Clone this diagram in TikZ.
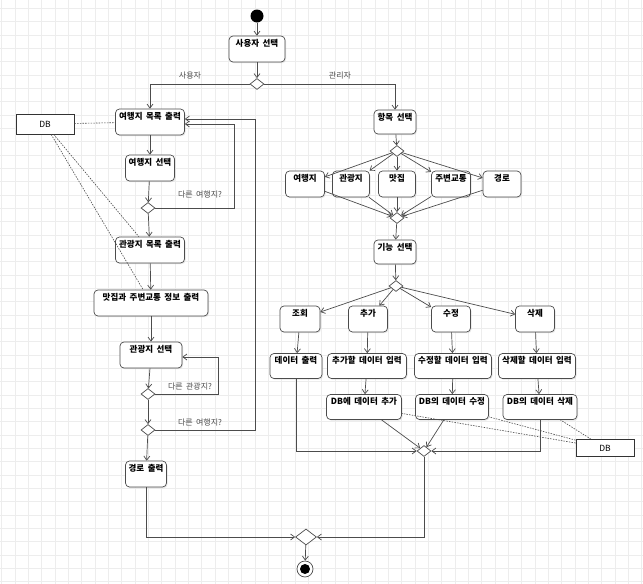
\documentclass[tikz,border=0pt]{standalone}
\usepackage{fontspec}
\setmainfont{Noto Sans CJK KR}[WordSpace=1.8]
\usepackage{tikz}
\usetikzlibrary{shapes.geometric,arrows.meta,shadows}

\begin{document}
\begin{tikzpicture}[x=1pt,y=-1pt,
    gridln/.style={draw=black!7, line width=0.5pt},
    act/.style={draw=black!70, line width=0.7pt, fill=white, rounded corners=4pt,
        font=\fontsize{8.5}{10}\selectfont\bfseries, inner xsep=2pt, inner ysep=3pt,
        text height=7pt, text depth=13pt, minimum width=40pt,
        drop shadow={shadow xshift=1pt, shadow yshift=-1.2pt, fill=black!20}},
    actsm/.style={act, text depth=11pt},
    store/.style={draw=black!80, line width=0.8pt, fill=white, minimum width=58pt,
        minimum height=20pt, inner sep=0pt, font=\fontsize{8.5}{10}\selectfont},
    dec/.style={diamond, draw=black!70, line width=0.7pt, fill=white,
        minimum width=14pt, minimum height=11pt, inner sep=0pt},
    flow/.style={draw=black!70, line width=0.7pt, -{Straight Barb[length=4pt,width=6pt]}},
    dep/.style={draw=black!70, line width=0.6pt, dash pattern=on 1.5pt off 1.2pt},
    guard/.style={font=\fontsize{8}{9}\selectfont, text=black!70}]

    \useasboundingbox[fill=white] (0,0) rectangle (643,584);
    % background grid
    \foreach \i in {0,...,48} \draw[gridln] ({1.7+13.33*\i},0) -- ++(0,584);
    \foreach \j in {0,...,43} \draw[gridln] (0,{8.4+13.33*\j}) -- ++(643,0);

    % start and user choice
    \node[circle, fill=black, minimum size=13pt, inner sep=0pt] (start) at (257,16) {};
    \node[act, minimum width=56pt] (usel) at (257,49) {사용자 선택};
    \node[dec] (d1) at (257,84) {};
    \node[guard] (gu) at (190,76) {사용자};
    \node[guard] (ga) at (340,76) {관리자};

    % user side
    \node[store] (dbl) at (45,124) {DB};
    \node[act, minimum width=69pt] (tlist) at (150,122) {여행지 목록 출력};
    \node[act, minimum width=49pt] (tsel) at (150,168) {여행지 선택};
    \node[dec] (d2) at (148,208) {};
    \node[guard] (gt1) at (200,195) {다른 여행지?};
    \node[act, minimum width=69pt] (alist) at (150,250) {관광지 목록 출력};
    \node[act, minimum width=114pt] (finfo) at (151,303) {맛집과 주변교통 정보 출력};
    \node[act, minimum width=62pt] (asel) at (151,355) {관광지 선택};
    \node[dec] (d3) at (148,394) {};
    \node[guard] (ga1) at (190,387) {다른 관광지?};
    \node[dec] (d4) at (148,430) {};
    \node[guard] (gt2) at (200,423) {다른 여행지?};
    \node[act, minimum width=41pt] (route) at (146,474) {경로 출력};

    % admin side
    \node[actsm, minimum width=42pt] (item) at (395,122) {항목 선택};
    \node[dec] (dA) at (397,151) {};
    \node[act, minimum width=39pt] (itrav) at (305,184) {여행지};
    \node[act, minimum width=37pt] (iattr) at (351,184) {관광지};
    \node[act, minimum width=37pt] (ifood) at (397,184) {맛집};
    \node[act, minimum width=39pt] (itran) at (451,184) {주변교통};
    \node[act, minimum width=38pt] (iroute) at (502,184) {경로};
    \node[dec] (dB) at (397,218) {};
    \node[actsm, minimum width=42pt] (func) at (395,252) {기능 선택};
    \node[dec] (dC) at (396,286) {};
    \node[act, minimum width=40pt] (look) at (300,319) {조회};
    \node[act, minimum width=39pt] (add) at (368,319) {추가};
    \node[act, minimum width=39pt] (edit) at (451,319) {수정};
    \node[act, minimum width=39pt] (del) at (535,319) {삭제};
    \node[act, minimum width=52pt, text depth=12pt] (lookout) at (296,366) {데이터 출력};
    \node[act, minimum width=79pt, text depth=12pt] (addin) at (367,366) {추가할 데이터 입력};
    \node[act, minimum width=77pt, text depth=12pt] (editin) at (453,366) {수정할 데이터 입력};
    \node[act, minimum width=77pt, text depth=12pt] (delin) at (537,366) {삭제할 데이터 입력};
    \node[act, minimum width=75pt, text depth=12pt] (adddb) at (364,407) {DB에 데이터 추가};
    \node[act, minimum width=73pt, text depth=12pt] (editdb) at (452,407) {DB의 데이터 수정};
    \node[act, minimum width=74pt, text depth=12pt] (deldb) at (540,407) {DB의 데이터 삭제};
    \node[dec] (dD) at (424,451) {};
    \node[store, minimum height=17pt] (dbr) at (605,448) {DB};

    % end
    \node[dec, minimum width=21pt, minimum height=16pt] (fin) at (306,537) {};
    \node[circle, draw=black!70, line width=0.7pt, fill=white, minimum size=16pt, inner sep=0pt,
        path picture={\fill[black] (path picture bounding box.center) circle (5pt);}] (stop) at (305,569) {};

    % flows
    \draw[flow] (start) -- (usel);
    \draw[flow] (usel) -- (d1);
    \draw[flow] (d1.west) -| (tlist.north);
    \draw[flow] (d1.east) -| (item.north);

    \draw[flow] (tlist) -- (tsel);
    \draw[flow] (tsel) -- (d2);
    \coordinate (lp1) at (234,124);
    \draw[flow] (d2.east) -| (lp1) -- (lp1 -| tlist.east);
    \draw[flow] (d2) -- (alist);
    \draw[flow] (alist) -- (finfo);
    \draw[flow] (finfo) -- (asel);
    \draw[flow] (asel) -- (d3);
    \coordinate (lp3) at (218,357);
    \draw[flow] (d3.east) -| (lp3) -- (lp3 -| asel.east);
    \draw[flow] (d3) -- (d4);
    \coordinate (lp2) at (255,119);
    \draw[flow] (d4.east) -| (lp2) -- (lp2 -| tlist.east);
    \draw[flow] (d4) -- (route);
    \draw[flow] (route.south) |- (fin.west);

    \draw[flow] (item) -- (dA);
    \foreach \n in {itrav,iattr,ifood,itran,iroute} {
        \draw[flow] (dA) -- (\n);
        \draw[flow] (\n) -- (dB);
    }
    \draw[flow] (dB) -- (func);
    \draw[flow] (func) -- (dC);
    \foreach \n in {look,add,edit,del} \draw[flow] (dC) -- (\n);
    \draw[flow] (look) -- (lookout);
    \draw[flow] (add) -- (addin);
    \draw[flow] (edit) -- (editin);
    \draw[flow] (del) -- (delin);
    \draw[flow] (addin) -- (adddb);
    \draw[flow] (editin) -- (editdb);
    \draw[flow] (delin) -- (deldb);
    \draw[flow] (adddb) -- (dD);
    \draw[flow] (editdb) -- (dD);
    \draw[flow] (lookout.south) |- (dD.west);
    \draw[flow] (deldb.south) |- (dD.east);
    \draw[flow] (dD.south) |- (fin.east);
    \draw[flow] (fin) -- (stop);

    % data store links
    \draw[dep] (dbl) -- (tlist);
    \draw[dep] (dbl) -- (alist);
    \draw[dep] (dbl) -- (finfo);
    \draw[dep] (dbr) -- (adddb);
    \draw[dep] (dbr) -- (editdb);
    \draw[dep] (dbr) -- (deldb);
\end{tikzpicture}
\end{document}
